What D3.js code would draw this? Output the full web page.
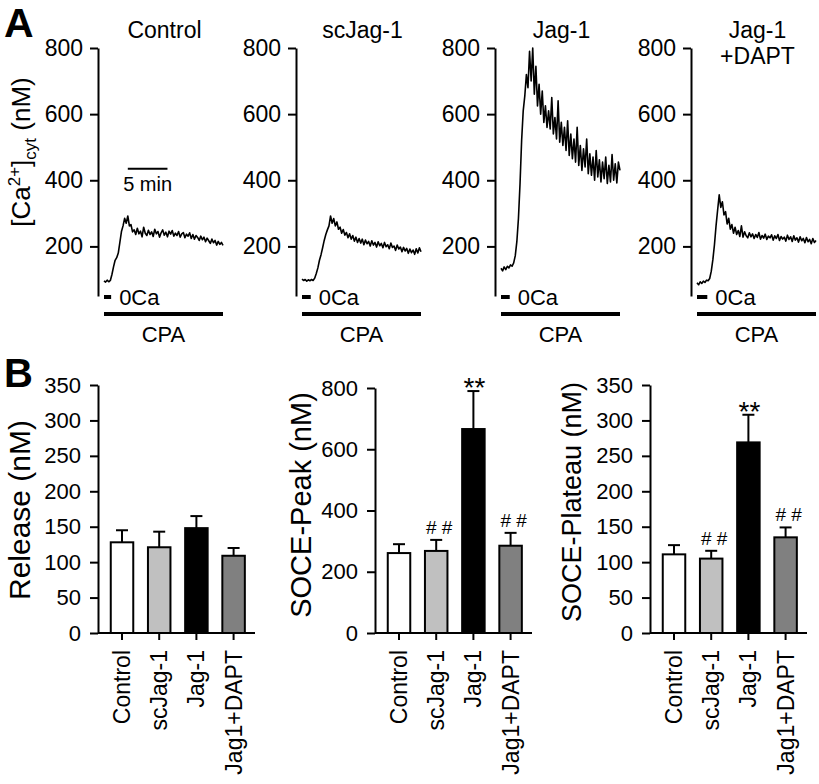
<!DOCTYPE html>
<html>
<head>
<meta charset="utf-8">
<script src="https://cdn.jsdelivr.net/npm/d3@7"></script>
<style>
  body { margin: 0; background: #fff; }
  svg { display: block; font-family: "Liberation Sans", Arial, sans-serif; }
</style>
</head>
<body>
<svg id="chart" width="819" height="784"></svg>
<script>
// ---------------- DATA ----------------
// Panel A: cytosolic Ca2+ traces (nM), one sample every 0.2 min, 0–15 min
const sampleInterval = 0.2;
const panelTitles = [["Control"], ["scJag-1"], ["Jag-1"], ["Jag-1", "+DAPT"]];
const traceControl = [96, 92, 98, 93, 97, 115, 138, 158, 166, 180, 212, 245, 262, 285, 270, 292,
  262, 266, 244, 250, 236, 255, 238, 246, 229, 258, 240, 233, 249, 236, 244, 230, 252, 238, 245,
  228, 241, 250, 234, 243, 229, 246, 237, 248, 231, 240, 233, 245, 228, 238, 242, 226, 237, 231,
  241, 224, 236, 222, 233, 227, 218, 231, 220, 228, 214, 225, 217, 209, 222, 211, 218, 204, 215,
  206, 212, 203];
const traceScJag = [101, 97, 100, 95, 99, 96, 100, 97, 104, 118, 135, 158, 175, 196, 218, 236,
  250, 262, 292, 270, 284, 262, 274, 252, 258, 240, 251, 234, 242, 226, 238, 222, 233, 216, 228,
  212, 224, 210, 222, 205, 219, 208, 215, 201, 217, 204, 212, 198, 214, 202, 209, 196, 212, 199,
  205, 193, 210, 197, 201, 188, 204, 192, 198, 184, 197, 186, 194, 179, 192, 181, 189, 176, 193,
  180, 196, 184];
const traceJag = [134, 126, 138, 130, 140, 135, 144, 140, 150, 172, 215, 285, 390, 520, 610, 655,
  720, 680, 790, 700, 800, 660, 745, 625, 690, 600, 670, 575, 625, 560, 610, 555, 650, 540, 590,
  525, 640, 515, 575, 505, 560, 490, 580, 475, 540, 465, 525, 455, 560, 445, 505, 430, 495, 440,
  525, 420, 480, 415, 470, 400, 490, 410, 462, 395, 455, 405, 470, 390, 445, 395, 478, 400, 450,
  392, 455, 430];
const traceJagDapt = [90, 84, 93, 88, 95, 91, 98, 96, 103, 125, 160, 205, 262, 310, 356, 318,
  335, 295, 305, 268, 285, 252, 266, 240, 258, 236, 248, 230, 262, 228, 244, 232, 226, 241, 229,
  238, 224, 236, 227, 242, 222, 233, 225, 237, 221, 231, 226, 235, 219, 232, 224, 236, 218, 230,
  222, 228, 216, 234, 221, 229, 215, 232, 219, 226, 213, 229, 217, 224, 211, 227, 214, 221, 208,
  224, 212, 218];
const traces = [traceControl, traceScJag, traceJag, traceJagDapt];
const traceTicks = [200, 400, 600, 800];
const zeroCaEnd = [0.9, 1.1, 1.1, 1.3];   // min
const cpaPeriod = [0, 15];                 // min
const scaleBarMin = [3, 8];                // 5-min scale bar (min)
const scaleBarLevel = 435;                 // nM

// Panel B: bar charts
const groups = ["Control", "scJag-1", "Jag-1", "Jag1+DAPT"];
const barFills = ["#ffffff", "#c0c0c0", "#000000", "#808080"];
const releaseMean = [128, 121, 148, 109];
const releaseSem = [17, 22, 17, 11];
const peakMean = [261, 268, 666, 285];
const peakSem = [29, 36, 124, 42];
const plateauMean = [111, 105, 269, 135];
const plateauSem = [13, 11, 39, 14];
const peakMarks = ["", "# #", "**", "# #"];
const plateauMarks = ["", "# #", "**", "# #"];
const releaseTicks = [0, 50, 100, 150, 200, 250, 300, 350];
const peakTicks = [0, 200, 400, 600, 800];
const plateauTicks = [0, 50, 100, 150, 200, 250, 300, 350];

// ---------------- DRAW ----------------
const svg = d3.select("#chart");
const FONT = '"Liberation Sans", Arial, sans-serif';

// Panel letters
svg.append("text").attr("x", 4).attr("y", 37).style("font-size", "41px").style("font-weight", "bold").text("A");
svg.append("text").attr("x", 4).attr("y", 387).style("font-size", "40px").style("font-weight", "bold").text("B");

// Panel A
const panelAxisX = [98, 296, 495, 691];
const yA = d3.scaleLinear().domain([50, 800]).range([296, 48]);

traces.forEach((trace, p) => {
  const ax = panelAxisX[p];
  const xT = d3.scaleLinear().domain([0, 15]).range([ax + 6, ax + 125]);
  const g = svg.append("g");

  const axis = g.append("g").attr("transform", `translate(${ax},0)`)
    .call(d3.axisLeft(yA).tickValues(traceTicks).tickSize(8).tickPadding(7).tickSizeOuter(0));
  axis.selectAll("path,line").attr("stroke", "#000").attr("stroke-width", 2);
  axis.selectAll("text").style("font-size", "23px").style("font-family", FONT).attr("fill", "#000");

  const line = d3.line().x((d, i) => xT(i * sampleInterval)).y(d => yA(d));
  g.append("path").datum(trace).attr("d", line).attr("fill", "none")
    .attr("stroke", "#000").attr("stroke-width", 1.6).attr("stroke-linejoin", "round");

  // title
  const cx = (xT(0) + xT(15)) / 2;
  panelTitles[p].forEach((t, k) => {
    g.append("text").attr("x", cx + 1).attr("y", 38 + k * 26).attr("text-anchor", "middle")
      .style("font-size", "23px").text(t);
  });

  // 0Ca dash
  g.append("line").attr("x1", xT(0)).attr("x2", xT(zeroCaEnd[p])).attr("y1", 297).attr("y2", 297)
    .attr("stroke", "#000").attr("stroke-width", 4);
  g.append("text").attr("x", xT(zeroCaEnd[p]) + 8).attr("y", 305).style("font-size", "22px").text("0Ca");

  // CPA bar
  g.append("line").attr("x1", xT(cpaPeriod[0])).attr("x2", xT(cpaPeriod[1])).attr("y1", 314).attr("y2", 314)
    .attr("stroke", "#000").attr("stroke-width", 4);
  g.append("text").attr("x", (xT(cpaPeriod[0]) + xT(cpaPeriod[1])) / 2).attr("y", 342)
    .attr("text-anchor", "middle").style("font-size", "22px").text("CPA");

  if (p === 0) {
    g.append("line").attr("x1", xT(scaleBarMin[0])).attr("x2", xT(scaleBarMin[1]))
      .attr("y1", yA(scaleBarLevel)).attr("y2", yA(scaleBarLevel)).attr("stroke", "#000").attr("stroke-width", 2);
    g.append("text").attr("x", (xT(scaleBarMin[0]) + xT(scaleBarMin[1])) / 2).attr("y", yA(scaleBarLevel) + 22)
      .attr("text-anchor", "middle").style("font-size", "20px").text("5 min");
  }
});

// Panel A y label
const yl = svg.append("text").attr("transform", "translate(30,152) rotate(-90)")
  .attr("text-anchor", "middle").style("font-size", "26px");
yl.append("tspan").text("[Ca");
yl.append("tspan").attr("dy", -10).style("font-size", "17px").text("2+");
yl.append("tspan").attr("dy", 10).text("]");
yl.append("tspan").attr("dy", 6).style("font-size", "17px").text("cyt");
yl.append("tspan").attr("dy", -6).text(" (nM)");

// Panel B
const charts = [
  { axisX: 98, mean: releaseMean, sem: releaseSem, marks: null, ticks: releaseTicks, max: 350, top: 385,
    label: "Release (nM)", labelX: 30, labelY: 510, labelSize: 30 },
  { axisX: 375, mean: peakMean, sem: peakSem, marks: peakMarks, ticks: peakTicks, max: 800, top: 388,
    label: "SOCE-Peak (nM)", labelX: 311, labelY: 505, labelSize: 29 },
  { axisX: 650, mean: plateauMean, sem: plateauSem, marks: plateauMarks, ticks: plateauTicks, max: 350, top: 385,
    label: "SOCE-Plateau (nM)", labelX: 581, labelY: 502, labelSize: 27 }
];
const baseY = 633;

charts.forEach(c => {
  const g = svg.append("g");
  const y = d3.scaleLinear().domain([0, c.max]).range([baseY, c.top]);
  const x = d3.scaleBand().domain(groups).range([c.axisX + 1.6, c.axisX + 158]).paddingInner(0.395).paddingOuter(0.3);

  // bars
  g.selectAll("rect.bar").data(groups).join("rect")
    .attr("x", d => x(d)).attr("width", x.bandwidth())
    .attr("y", (d, i) => y(c.mean[i])).attr("height", (d, i) => baseY - y(c.mean[i]))
    .attr("fill", (d, i) => barFills[i]).attr("stroke", "#000").attr("stroke-width", 2);

  // error bars
  groups.forEach((d, i) => {
    const cx = x(d) + x.bandwidth() / 2;
    const yt = y(c.mean[i] + c.sem[i]);
    g.append("line").attr("x1", cx).attr("x2", cx).attr("y1", y(c.mean[i])).attr("y2", yt)
      .attr("stroke", "#000").attr("stroke-width", 2);
    g.append("line").attr("x1", cx - 6).attr("x2", cx + 6).attr("y1", yt).attr("y2", yt)
      .attr("stroke", "#000").attr("stroke-width", 2);
    if (c.marks && c.marks[i]) {
      const isStar = c.marks[i] === "**";
      g.append("text").attr("x", cx + (isStar ? 1 : 3)).attr("y", isStar ? yt + 6 : yt - 6)
        .attr("text-anchor", "middle").style("font-size", isStar ? "28px" : "19px").text(c.marks[i]);
    }
  });

  // y axis
  const ay = g.append("g").attr("transform", `translate(${c.axisX},0)`)
    .call(d3.axisLeft(y).tickValues(c.ticks).tickSize(8).tickPadding(9).tickSizeOuter(0));
  ay.selectAll("path,line").attr("stroke", "#000").attr("stroke-width", 2);
  ay.selectAll("text").style("font-size", "22px").style("font-family", FONT).attr("fill", "#000");

  // x axis
  const axg = g.append("g").attr("transform", `translate(0,${baseY})`)
    .call(d3.axisBottom(x).tickSize(7).tickSizeOuter(0));
  axg.select(".domain").attr("d", `M${c.axisX},0H${c.axisX + 157}`);
  axg.selectAll("path,line").attr("stroke", "#000").attr("stroke-width", 2);
  axg.selectAll("text").style("font-size", "23px").style("font-family", FONT).attr("fill", "#000")
    .attr("transform", "rotate(-90)").attr("text-anchor", "end")
    .attr("x", -17).attr("y", 0).attr("dy", "0.35em");

  // y label
  g.append("text").attr("transform", `translate(${c.labelX},${c.labelY}) rotate(-90)`)
    .attr("text-anchor", "middle").style("font-size", c.labelSize + "px").text(c.label);
});
</script>
</body>
</html>
